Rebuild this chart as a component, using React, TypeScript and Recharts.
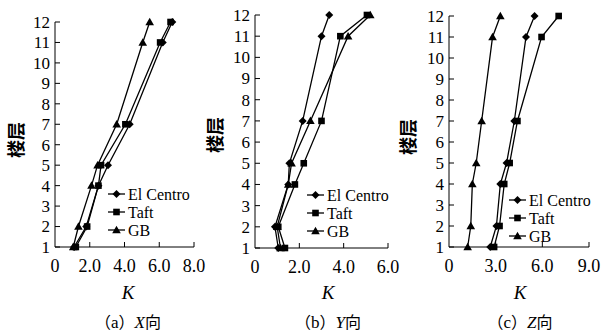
import React from "react";
import { ScatterChart, Scatter, XAxis, YAxis } from "recharts";

const FLOORS = [1, 2, 4, 5, 7, 11, 12];
const FLOOR_TICKS = [1, 2, 3, 4, 5, 6, 7, 8, 9, 10, 11, 12];

// K values per floor
const X_EL = [1.1, 1.8, 2.5, 3.05, 4.3, 6.2, 6.75];
const X_TAFT = [1.2, 1.85, 2.5, 2.65, 4.05, 6.05, 6.65];
const X_GB = [1.05, 1.35, 2.1, 2.45, 3.55, 5.05, 5.45];

const Y_EL = [1.05, 0.9, 1.5, 1.55, 2.15, 3.0, 3.35];
const Y_TAFT = [1.35, 1.05, 1.8, 2.2, 3.0, 3.85, 5.05];
const Y_GB = [1.15, 1.0, 1.5, 1.65, 2.5, 4.2, 5.2];

const Z_EL = [2.65, 3.05, 3.3, 3.7, 4.2, 4.95, 5.5];
const Z_TAFT = [2.9, 3.25, 3.55, 3.9, 4.4, 5.95, 7.05];
const Z_GB = [1.2, 1.4, 1.5, 1.75, 2.1, 2.8, 3.3];

const X_TICKS_A = [0, 2, 4, 6, 8];
const X_TICKS_B = [0, 2, 4, 6];
const X_TICKS_C = [0, 3, 6, 9];

const SERIES_NAMES = ["El Centro", "Taft", "GB"];

const SERIF = "Liberation Serif";
const CJK = "Noto Sans CJK SC";
const W = 601;
const H = 333;

const toPoints = (vals: number[]) => vals.map((k, i) => ({ k, floor: FLOORS[i] }));

function Diamond(props: any) {
  const { cx, cy } = props;
  const r = 4;
  return <path d={`M${cx},${cy - r}L${cx + r},${cy}L${cx},${cy + r}L${cx - r},${cy}Z`} fill="#000" />;
}

function Square(props: any) {
  const { cx, cy } = props;
  return <rect x={cx - 3.3} y={cy - 3.3} width={6.6} height={6.6} fill="#000" />;
}

function Triangle(props: any) {
  const { cx, cy } = props;
  return <path d={`M${cx},${cy - 4.3}L${cx + 4.3},${cy + 3.2}L${cx - 4.3},${cy + 3.2}Z`} fill="#000" />;
}

const SHAPES = [Diamond, Square, Triangle];

function XTick(props: any) {
  const { x, y, payload } = props;
  const v = payload.value;
  return (
    <g>
      {v !== 0 && <line x1={x} y1={y} x2={x} y2={y - 5} stroke="#000" strokeWidth={1} />}
      <text x={x} y={y + 25} textAnchor="middle" fontFamily={SERIF} fontSize={18} fill="#000">
        {v === 0 ? "0" : v.toFixed(1)}
      </text>
    </g>
  );
}

function YTick(props: any) {
  const { x, y, payload } = props;
  return (
    <g>
      <line x1={x} y1={y} x2={x + 5} y2={y} stroke="#000" strokeWidth={1} />
      <text x={x - 5} y={y} dy="0.35em" textAnchor="end" fontFamily={SERIF} fontSize={17} fill="#000">
        {payload.value}
      </text>
    </g>
  );
}

type PanelProps = {
  left: number;
  top: number;
  right: number;
  bottom: number;
  xMax: number;
  xTicks: number[];
  series: number[][];
  letter: string;
  dir: string;
  yLabelX: number;
  yLabelY: number;
  captionX: number;
  legendX: number;
  legendY: number;
};

function Panel(p: PanelProps) {
  return (
    <div style={{ position: "absolute", left: 0, top: 0 }}>
      <ScatterChart
        width={W}
        height={H}
        margin={{ top: p.top, right: p.right, bottom: p.bottom, left: p.left }}
      >
        <XAxis
          type="number"
          dataKey="k"
          domain={[0, p.xMax]}
          ticks={p.xTicks}
          allowDataOverflow
          height={30}
          tickSize={0}
          tickMargin={0}
          tickLine={false}
          axisLine={{ stroke: "#000", strokeWidth: 1 }}
          tick={<XTick />}
          interval={0}
        />
        <YAxis
          type="number"
          dataKey="floor"
          domain={[1, 12]}
          ticks={FLOOR_TICKS}
          width={55}
          tickSize={0}
          tickMargin={0}
          tickLine={false}
          axisLine={{ stroke: "#000", strokeWidth: 1 }}
          tick={<YTick />}
          interval={0}
        />
        {p.series.map((vals, i) => (
          <Scatter
            key={SERIES_NAMES[i]}
            name={SERIES_NAMES[i]}
            data={toPoints(vals)}
            fill="#000"
            stroke="#000"
            line={{ stroke: "#000", strokeWidth: 1.3 }}
            shape={SHAPES[i]}
            isAnimationActive={false}
          />
        ))}
      </ScatterChart>
      <svg width={W} height={H} style={{ position: "absolute", left: 0, top: 0, pointerEvents: "none" }}>
        <text
          x={p.yLabelX}
          y={p.yLabelY}
          transform={`rotate(-90 ${p.yLabelX} ${p.yLabelY})`}
          textAnchor="middle"
          dominantBaseline="central"
          fontFamily={CJK}
          fontWeight="bold"
          fontSize={18}
          fill="#000"
        >
          楼层
        </text>
        <text x={p.captionX} y={299} textAnchor="middle" fontFamily={SERIF} fontStyle="italic" fontSize={19} fill="#000">
          K
        </text>
        <text x={p.captionX} y={328} textAnchor="middle" fontSize={16} fill="#000">
          <tspan fontFamily={CJK}>（</tspan>
          <tspan fontFamily={SERIF} fontSize={17}>{p.letter}</tspan>
          <tspan fontFamily={CJK}>）</tspan>
          <tspan fontFamily={SERIF} fontStyle="italic" fontSize={17}>{p.dir}</tspan>
          <tspan fontFamily={CJK}>向</tspan>
        </text>
        {SERIES_NAMES.map((name, i) => {
          const Shape = SHAPES[i];
          const y = p.legendY + i * 18;
          return (
            <g key={name}>
              <line x1={p.legendX} y1={y} x2={p.legendX + 17} y2={y} stroke="#000" strokeWidth={1.3} />
              <Shape cx={p.legendX + 8.5} cy={y} />
              <text x={p.legendX + 20} y={y} dy="0.35em" fontFamily={SERIF} fontSize={16} fill="#000">
                {name}
              </text>
            </g>
          );
        })}
      </svg>
    </div>
  );
}

export default function App() {
  return (
    <div style={{ position: "fixed", left: 0, top: 0, width: W, height: H, background: "#fff", overflow: "hidden" }}>
      <Panel
        left={0}
        top={22}
        right={W - 194}
        bottom={56}
        xMax={8}
        xTicks={X_TICKS_A}
        series={[X_EL, X_TAFT, X_GB]}
        letter="a"
        dir="X"
        yLabelX={15}
        yLabelY={140}
        captionX={128}
        legendX={108}
        legendY={194}
      />
      <Panel
        left={200}
        top={15}
        right={W - 388}
        bottom={55}
        xMax={6}
        xTicks={X_TICKS_B}
        series={[Y_EL, Y_TAFT, Y_GB]}
        letter="b"
        dir="Y"
        yLabelX={214}
        yLabelY={135}
        captionX={328}
        legendX={307}
        legendY={195}
      />
      <Panel
        left={394}
        top={16}
        right={W - 589}
        bottom={56}
        xMax={9}
        xTicks={X_TICKS_C}
        series={[Z_EL, Z_TAFT, Z_GB]}
        letter="c"
        dir="Z"
        yLabelX={407}
        yLabelY={137}
        captionX={520}
        legendX={509}
        legendY={200}
      />
    </div>
  );
}
